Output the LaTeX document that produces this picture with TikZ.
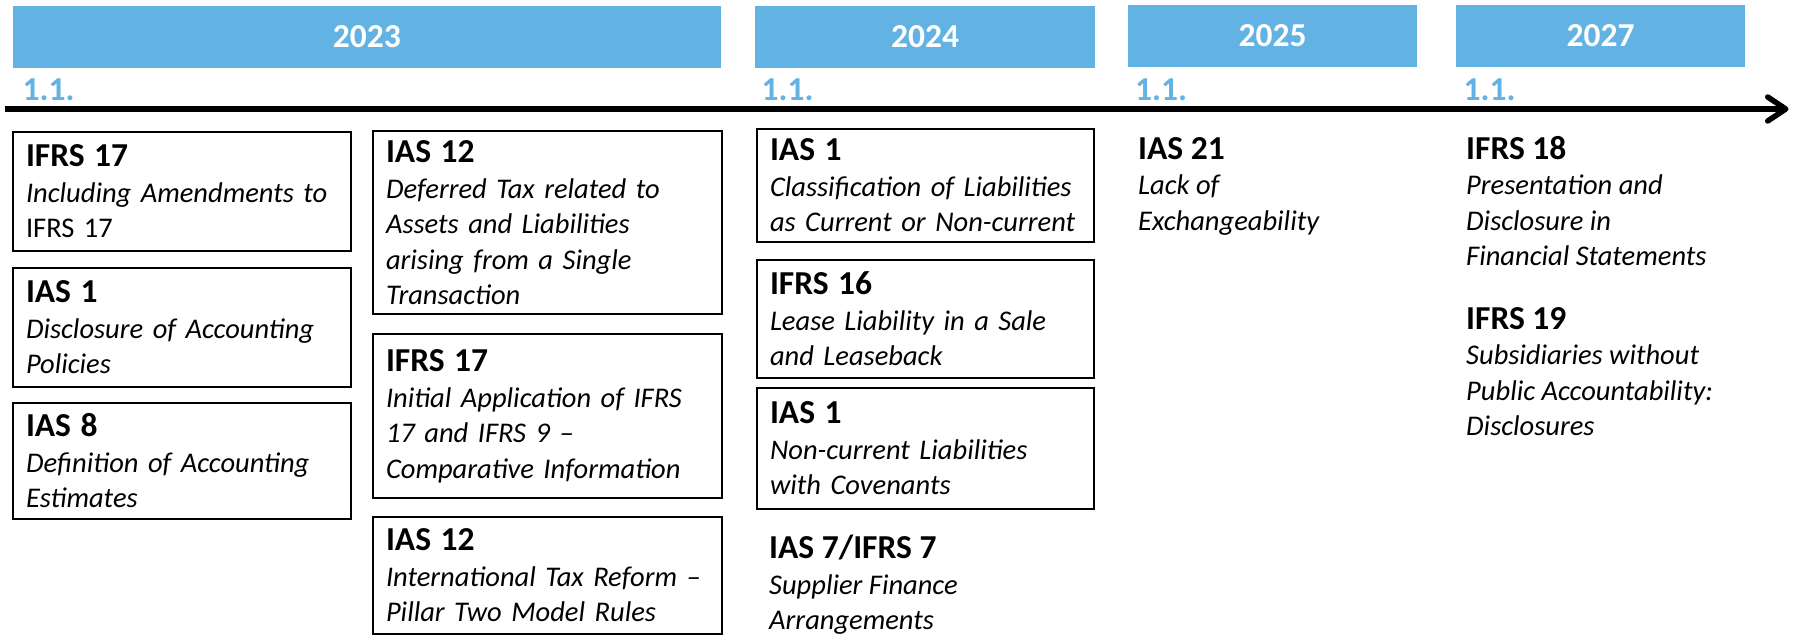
\documentclass[tikz,border=0pt]{standalone}
\usepackage{fontspec}
\setmainfont{Carlito}
\usepackage{tikz}
\usetikzlibrary{arrows.meta}
\definecolor{bleu}{RGB}{98,179,227}
\newcommand{\titre}[1]{{\fontsize{33.5}{35.5}\selectfont\bfseries\upshape #1}}

\begin{document}
\begin{tikzpicture}[x=1pt,y=-1pt,
  annee/.style={fill=bleu,text=white,inner sep=0pt,minimum height=61.7pt,
    font=\fontsize{33.5}{35.5}\selectfont\bfseries},
  date/.style={text=bleu,anchor=base west,inner sep=0pt,
    font=\fontsize{33.5}{35.5}\selectfont\bfseries},
  norme/.style={draw,line width=2pt,anchor=north west,inner xsep=13pt,inner ysep=0pt,
    align=left,font=\fontsize{28.5}{35.5}\selectfont\itshape},
  libre/.style={anchor=north west,inner sep=0pt,align=left,
    font=\fontsize{28.5}{35.5}\selectfont\itshape},
  axe/.style={line width=5.5pt,-{Straight Barb[length=18pt,width=24pt,round]}}]
\useasboundingbox (0,0) rectangle (1798,635);
%bandeau des annees
\node[annee,minimum width=708.3pt] (an2023) at (366.85,36.85) {2023};
\node[annee,minimum width=340pt] (an2024) at (925,36.85) {2024};
\node[annee,minimum width=288.7pt] (an2025) at (1272.65,35.85) {2025};
\node[annee,minimum width=289pt] (an2027) at (1600.5,35.85) {2027};
%dates
\node[date] (d2023) at (22.5,100) {1.1.};
\node[date] (d2024) at (761.5,100) {1.1.};
\node[date] (d2025) at (1135,100) {1.1.};
\node[date] (d2027) at (1463.5,100) {1.1.};
%axe du temps
\coordinate (debut) at (5,109);
\coordinate (fin) at (1788.5,109);
\draw[axe] (debut) -- (fin);
%fin
%2023
\node[norme,text width=312pt,minimum height=119.5pt] (ifrs17a) at (12,130.5)
  {\titre{IFRS 17}\\Including Amendments to\\{\upshape IFRS 17}};
\node[norme,text width=312pt,minimum height=119.3pt] (ias1a) at (12,266.7)
  {\titre{IAS 1}\\Disclosure of Accounting\\Policies};
\node[norme,text width=312pt,minimum height=116.3pt] (ias8) at (12,401.7)
  {\titre{IAS 8}\\Definition of Accounting\\Estimates};
\node[norme,text width=322.7pt,minimum height=183pt] (ias12a) at (372,130.3)
  {\titre{IAS 12}\\Deferred Tax related to\\Assets and Liabilities\\arising from a Single\\Transaction};
\node[norme,text width=322.7pt,minimum height=163.7pt] (ifrs17b) at (372,333.3)
  {\titre{IFRS 17}\\Initial Application of IFRS\\17 and IFRS 9 --\\Comparative Information};
\node[norme,text width=322.7pt,minimum height=117.6pt] (ias12b) at (372,515.7)
  {\titre{IAS 12}\\International Tax Reform --\\Pillar Two Model Rules};
%2024
\node[norme,text width=311.3pt,minimum height=113.6pt] (ias1b) at (756,127.7)
  {\titre{IAS 1}\\Classification of Liabilities\\as Current or Non-current};
\node[norme,text width=311.3pt,minimum height=117.4pt] (ifrs16) at (756,259.3)
  {\titre{IFRS 16}\\Lease Liability in a Sale\\and Leaseback};
\node[norme,text width=311.3pt,minimum height=121.3pt] (ias1c) at (756,386.7)
  {\titre{IAS 1}\\Non-current Liabilities\\with Covenants};
\node[libre] (ias7) at (769,535)
  {\titre{IAS 7/IFRS 7}\\Supplier Finance\\Arrangements};
%2025
\node[libre] (ias21) at (1138,137)
  {\titre{IAS 21}\\Lack of\\Exchangeability};
%2027
\node[libre] (ifrs18) at (1466,136)
  {\titre{IFRS 18}\\Presentation and\\Disclosure in\\Financial Statements};
\node[libre] (ifrs19) at (1466,307)
  {\titre{IFRS 19}\\Subsidiaries without\\Public Accountability:\\Disclosures};
\end{tikzpicture}
\end{document}
